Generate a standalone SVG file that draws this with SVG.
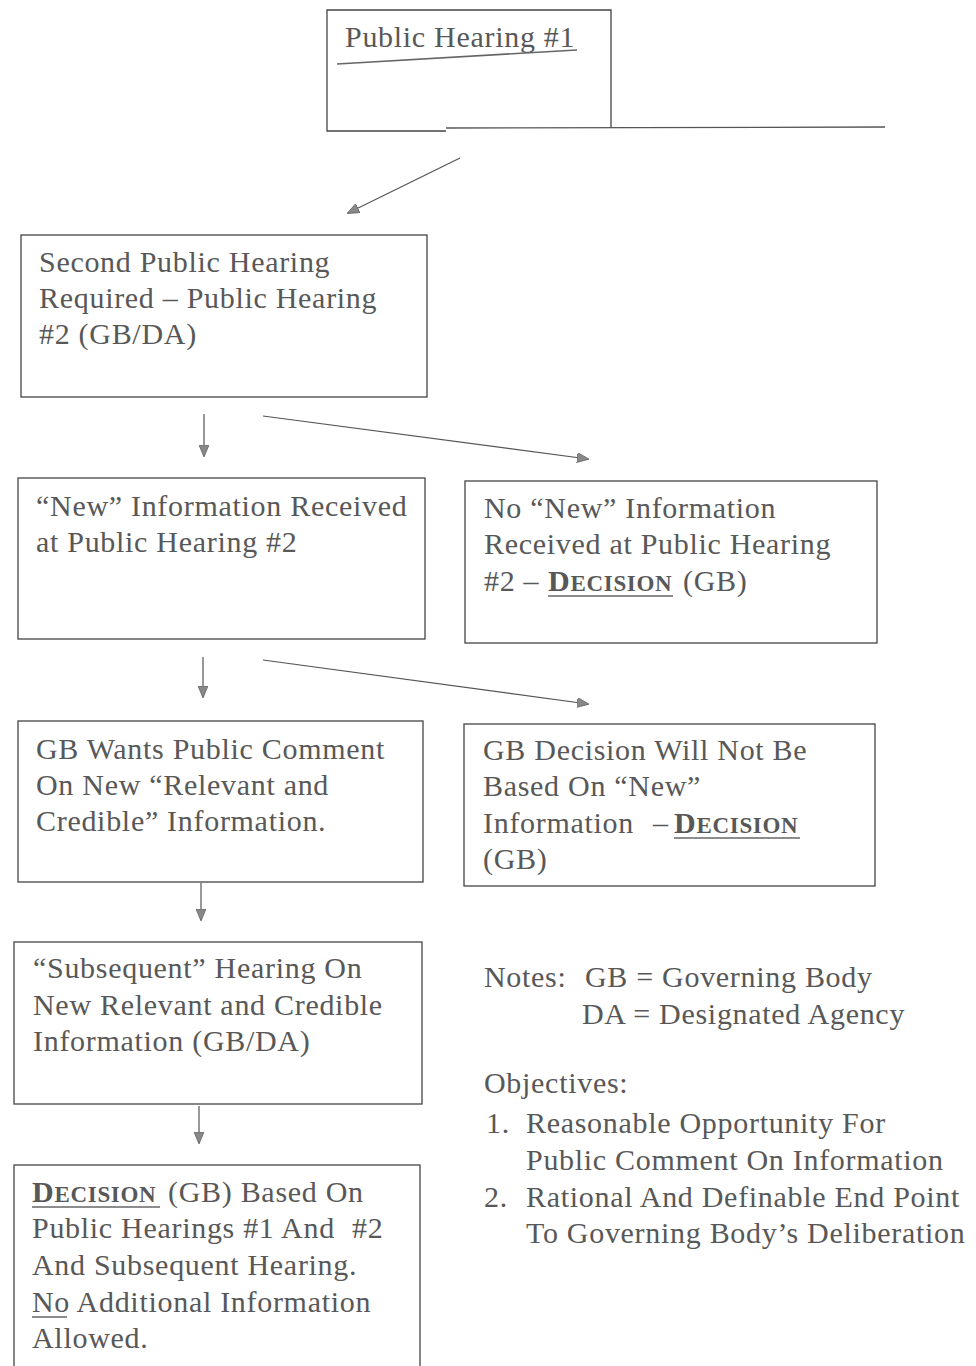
<svg xmlns="http://www.w3.org/2000/svg" width="976" height="1366" viewBox="0 0 976 1366">
<defs>
<style>
.box{fill:#fff;stroke:#444;stroke-width:1.3}
.t{font-family:"Liberation Serif","Times New Roman",serif;font-size:30px;fill:#585858;letter-spacing:0.7px}
.sc{font-size:23px;font-weight:bold}
.ln{stroke:#555;stroke-width:1.2;fill:none}
.ul{stroke:#666;stroke-width:1.6}
</style>
<marker id="ah" markerWidth="12" markerHeight="10" refX="11" refY="5" orient="auto" markerUnits="userSpaceOnUse">
<path d="M0,0 L12,5 L0,10 Z" fill="#888" stroke="#666" stroke-width="0.8"/>
</marker>
</defs>
<rect width="976" height="1366" fill="#fff"/>

<g id="n1">
<path class="box" d="M446,131 H327 V10 H611 V128"/>
<text class="t" x="345" y="47">Public Hearing #1</text>
<line x1="337" y1="64" x2="577" y2="50" stroke="#666" stroke-width="1.6"/>
<line x1="446" y1="128" x2="885" y2="127" stroke="#555" stroke-width="1.3"/>
</g>

<g id="n2">
<rect class="box" x="21" y="235" width="406" height="162"/>
<text class="t" x="39" y="272">Second Public Hearing</text>
<text class="t" x="39" y="308">Required – Public Hearing</text>
<text class="t" x="39" y="344">#2 (GB/DA)</text>
</g>

<g id="n3">
<rect class="box" x="18" y="478" width="407" height="161"/>
<text class="t" x="36" y="516">“New” Information Received</text>
<text class="t" x="36" y="552">at Public Hearing #2</text>
</g>

<g id="n4">
<rect class="box" x="465" y="481" width="412" height="162"/>
<text class="t" x="484" y="518">No “New” Information</text>
<text class="t" x="484" y="554">Received at Public Hearing</text>
<text class="t" x="484" y="591">#2 – <tspan x="548" font-weight="bold">D</tspan><tspan class="sc">ECISION</tspan><tspan x="683">(GB)</tspan></text>
<line class="ul" x1="548" y1="596" x2="673" y2="596"/>
</g>

<g id="n5">
<rect class="box" x="18" y="721" width="405" height="161"/>
<text class="t" x="36" y="759">GB Wants Public Comment</text>
<text class="t" x="36" y="795">On New “Relevant and</text>
<text class="t" x="36" y="831">Credible” Information.</text>
</g>

<g id="n6">
<rect class="box" x="464" y="724" width="411" height="162"/>
<text class="t" x="483" y="760">GB Decision Will Not Be</text>
<text class="t" x="483" y="796">Based On “New”</text>
<text class="t" x="483" y="833">Information <tspan x="653">–</tspan><tspan x="674" font-weight="bold">D</tspan><tspan class="sc">ECISION</tspan></text>
<line class="ul" x1="674" y1="838" x2="800" y2="838"/>
<text class="t" x="483" y="869">(GB)</text>
</g>

<g id="n7">
<rect class="box" x="14" y="942" width="408" height="162"/>
<text class="t" x="33" y="978">“Subsequent” Hearing On</text>
<text class="t" x="33" y="1015">New Relevant and Credible</text>
<text class="t" x="33" y="1051">Information (GB/DA)</text>
</g>

<g id="n8">
<rect class="box" x="14" y="1165" width="406" height="210"/>
<text class="t" x="32" y="1202"><tspan font-weight="bold">D</tspan><tspan class="sc">ECISION</tspan><tspan x="168">(GB) Based On</tspan></text>
<line class="ul" x1="32" y1="1207" x2="160" y2="1207"/>
<text class="t" x="32" y="1238">Public Hearings #1 And <tspan x="352">#2</tspan></text>
<text class="t" x="32" y="1275">And Subsequent Hearing.</text>
<text class="t" x="32" y="1312">No Additional Information</text>
<line class="ul" x1="32" y1="1317" x2="67" y2="1317"/>
<text class="t" x="32" y="1348">Allowed.</text>
</g>

<g id="notes">
<text class="t" x="484" y="987">Notes: <tspan x="585">GB = Governing Body</tspan></text>
<text class="t" x="582" y="1024">DA = Designated Agency</text>
<text class="t" x="484" y="1093">Objectives:</text>
<text class="t" x="486" y="1133">1.</text>
<text class="t" x="526" y="1133">Reasonable Opportunity For</text>
<text class="t" x="526" y="1170">Public Comment On Information</text>
<text class="t" x="484" y="1207">2.</text>
<text class="t" x="526" y="1207">Rational And Definable End Point</text>
<text class="t" x="526" y="1243">To Governing Body’s Deliberation</text>
</g>

<g id="connectors">
<line class="ln" x1="460" y1="158" x2="348" y2="213" marker-end="url(#ah)"/>
<line class="ln" x1="204" y1="414" x2="204" y2="456" marker-end="url(#ah)"/>
<line class="ln" x1="263" y1="416" x2="588" y2="459" marker-end="url(#ah)"/>
<line class="ln" x1="203" y1="657" x2="203" y2="697" marker-end="url(#ah)"/>
<line class="ln" x1="263" y1="660" x2="588" y2="704" marker-end="url(#ah)"/>
<line class="ln" x1="201" y1="883" x2="201" y2="920" marker-end="url(#ah)"/>
<line class="ln" x1="199" y1="1106" x2="199" y2="1143" marker-end="url(#ah)"/>
</g>
</svg>
